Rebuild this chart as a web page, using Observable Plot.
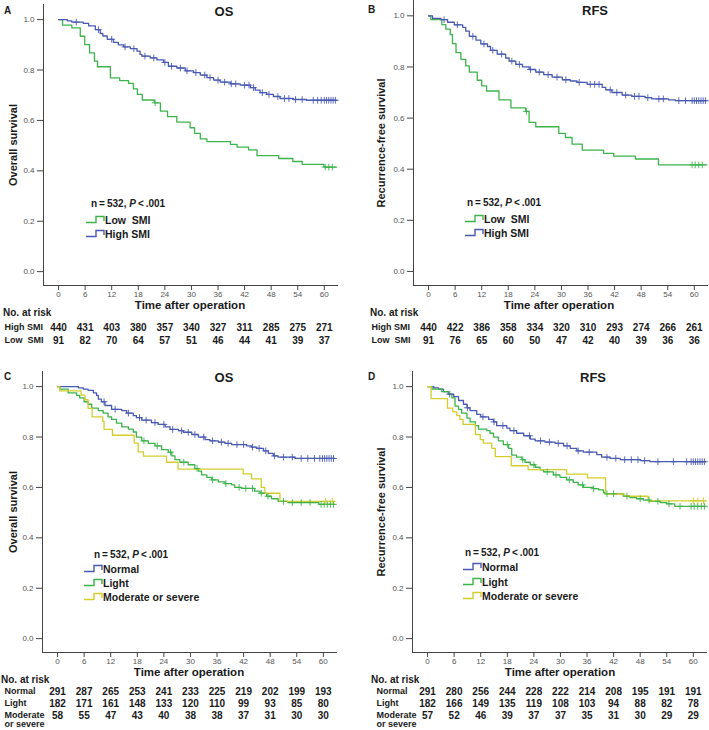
<!DOCTYPE html>
<html><head><meta charset="utf-8">
<script src="https://cdn.jsdelivr.net/npm/d3@7"></script>
<script src="https://cdn.jsdelivr.net/npm/@observablehq/plot@0.6"></script>
<style>
body{margin:0;background:#fff;}
#root{position:relative;width:709px;height:730px;overflow:hidden;font-family:"Liberation Sans",Arial,sans-serif;color:#1a1a1a;}
.abs{position:absolute;white-space:pre;line-height:1;}
.pl{position:absolute;}
</style></head><body><div id="root"></div>
<script>
// ---------- shared ticks ----------
const monthTicks = [0, 6, 12, 18, 24, 30, 36, 42, 48, 54, 60];
const survTicks = [0, 0.2, 0.4, 0.6, 0.8, 1.0];
const xDomain = [-3.4, 63.2];
const yDomain = [-0.055, 1.06];

// ---------- colours ----------
const blue = "#4a5ab2", green = "#3db44b", yellow = "#d3cd2b";

// ---------- Panel A: OS by SMI ----------
const A_high_t = [0, 2, 3, 5.6, 6.8, 8.3, 9.4, 10, 11, 12.4, 13.5, 14.7, 16.2, 17.7, 18.4, 18.8, 20.7, 22.2, 23.7, 24.8, 26.7, 28.6, 30.5, 32, 33.5, 35, 36.5, 38.8, 41, 43.3, 44.4, 45.5, 47, 48.5, 50, 53, 56, 62.8];
const A_high_s = [1, 0.995, 0.99, 0.985, 0.975, 0.96, 0.945, 0.935, 0.922, 0.91, 0.9, 0.892, 0.885, 0.875, 0.862, 0.855, 0.848, 0.84, 0.83, 0.815, 0.808, 0.797, 0.79, 0.78, 0.77, 0.76, 0.752, 0.745, 0.74, 0.73, 0.72, 0.71, 0.703, 0.695, 0.687, 0.683, 0.68, 0.68];
const A_high_c = [4, 9, 12, 15, 17, 19.5, 21.5, 24, 25.5, 27.5, 29, 31, 33, 34.2, 36, 37.5, 39, 40, 42, 43, 44, 46, 47.5, 49.5, 51, 52, 53.5, 55, 57.5, 58.5, 59.3, 60, 60.5, 61, 61.5, 62, 62.5];
const A_low_t = [0, 0.9, 3, 4.9, 5.9, 7, 8.1, 8.8, 11.7, 13.8, 15.8, 16.9, 17.8, 18.9, 21.6, 23, 24.6, 26.7, 29.7, 30.7, 32, 33.5, 38.8, 40.3, 42.9, 44.8, 49.7, 52.9, 55, 59.9, 62.8];
const A_low_s = [1, 0.978, 0.967, 0.934, 0.901, 0.868, 0.835, 0.813, 0.769, 0.758, 0.747, 0.725, 0.703, 0.681, 0.670, 0.637, 0.615, 0.593, 0.571, 0.549, 0.527, 0.516, 0.505, 0.494, 0.483, 0.460, 0.449, 0.437, 0.426, 0.415, 0.415];
const A_low_c = [21.8, 60.2, 61, 61.8];
const A_risk_high = [440, 431, 403, 380, 357, 340, 327, 311, 285, 275, 271];
const A_risk_low = [91, 82, 70, 64, 57, 51, 46, 44, 41, 39, 37];

// ---------- Panel B: RFS by SMI ----------
const B_high_t = [0, 0.9, 2.8, 4.3, 5.8, 7.7, 8.4, 9.2, 10.7, 11.8, 13.3, 14, 15.5, 17.4, 18.2, 19.7, 21.2, 22.7, 24.2, 26, 27.9, 30.2, 32, 33.5, 35.8, 39.2, 40, 41.4, 43.7, 45.9, 48.9, 50.4, 54.2, 55.7, 62.8];
const B_high_s = [1, 0.99, 0.985, 0.975, 0.965, 0.955, 0.94, 0.92, 0.905, 0.89, 0.88, 0.865, 0.85, 0.835, 0.823, 0.81, 0.8, 0.79, 0.78, 0.77, 0.76, 0.75, 0.745, 0.74, 0.732, 0.72, 0.71, 0.7, 0.69, 0.685, 0.68, 0.675, 0.671, 0.668, 0.668];
const B_high_c = [3.5, 6.5, 10, 12.5, 14.5, 16.5, 18.8, 20.5, 23, 25, 27, 29, 31, 34, 36.5, 37.5, 38.5, 41, 42.5, 44.5, 46.5, 47.5, 49.5, 52, 53, 56.5, 58, 59.5, 60, 60.5, 61, 61.5, 62, 62.5];
const B_low_t = [0, 0.5, 3, 3.9, 4.9, 5.4, 6.2, 7.3, 8.4, 9.2, 11, 12, 13.1, 15.9, 18.6, 21.9, 22.7, 24.2, 29.4, 30.9, 32.4, 34.7, 39.5, 41.8, 46.7, 51.9, 62.8];
const B_low_s = [1, 0.985, 0.966, 0.948, 0.927, 0.891, 0.856, 0.83, 0.804, 0.78, 0.748, 0.726, 0.706, 0.671, 0.64, 0.626, 0.583, 0.566, 0.54, 0.524, 0.498, 0.475, 0.462, 0.451, 0.44, 0.417, 0.417];
const B_low_c = [22.1, 59.5, 60.2, 61, 61.8];
const B_risk_high = [440, 422, 386, 358, 334, 320, 310, 293, 274, 266, 261];
const B_risk_low = [91, 76, 65, 60, 50, 47, 42, 40, 39, 36, 36];

// ---------- Panel C: OS by sarcopenia grade ----------
const C_norm_t = [0, 4.7, 5.8, 6.9, 8.1, 8.8, 9.2, 9.9, 10.7, 12.2, 14.5, 15.6, 17.1, 17.8, 19, 21.2, 22.7, 24.3, 25.4, 27.3, 28.4, 30.3, 31.8, 33.3, 34.4, 36.3, 37.8, 39.3, 42.7, 43.8, 45, 46.5, 47.6, 48.7, 49.8, 53.6, 62.6];
const C_norm_s = [1, 0.995, 0.99, 0.985, 0.975, 0.965, 0.95, 0.94, 0.925, 0.91, 0.905, 0.895, 0.885, 0.877, 0.867, 0.857, 0.85, 0.84, 0.83, 0.825, 0.819, 0.81, 0.8, 0.79, 0.785, 0.78, 0.775, 0.77, 0.765, 0.76, 0.755, 0.745, 0.735, 0.725, 0.72, 0.715, 0.715];
const C_norm_c = [10.5, 13, 16, 18.5, 20, 22, 24, 26, 28, 29.5, 31, 33, 35, 37, 38.5, 40.5, 42, 44, 45.5, 47, 49, 51, 53, 55, 56.5, 58, 59.2, 59.8, 60.3, 60.8, 61.3, 61.8, 62.3];
const C_light_t = [0, 0.5, 2.4, 4.3, 5, 6, 6.9, 7.7, 9.2, 10.3, 11.4, 12.2, 13.3, 14.5, 16, 17.1, 17.8, 19, 20.5, 22, 23.5, 25, 25.8, 26.5, 27.6, 29.5, 31, 31.8, 32.5, 33.7, 34.8, 36.3, 37.8, 39.3, 40, 41.5, 44.5, 45.7, 47.2, 48.3, 49.8, 52, 59, 62.6];
const C_light_s = [1, 0.99, 0.975, 0.965, 0.955, 0.94, 0.93, 0.915, 0.905, 0.895, 0.88, 0.87, 0.855, 0.84, 0.831, 0.82, 0.8, 0.785, 0.775, 0.765, 0.75, 0.74, 0.725, 0.71, 0.7, 0.69, 0.675, 0.665, 0.65, 0.64, 0.63, 0.622, 0.615, 0.61, 0.6, 0.596, 0.585, 0.577, 0.565, 0.555, 0.545, 0.54, 0.533, 0.533];
const C_light_c = [19.5, 22.5, 25.5, 28.5, 31.5, 35, 38, 41, 42.5, 44, 46, 47.5, 51, 53, 55, 57, 59.5, 60.2, 60.9, 61.6, 62.3];
const C_mod_t = [0, 0.5, 5.3, 6.2, 6.9, 7.8, 10.2, 10.5, 12.4, 17.3, 18.2, 19.4, 24.6, 27.2, 41.9, 43.8, 46, 46.8, 50.2, 62.6];
const C_mod_s = [1, 0.983, 0.966, 0.948, 0.914, 0.88, 0.862, 0.83, 0.807, 0.776, 0.741, 0.724, 0.70, 0.673, 0.654, 0.634, 0.60, 0.577, 0.545, 0.545];
const C_mod_c = [60.5, 62];
const C_risk_norm = [291, 287, 265, 253, 241, 233, 225, 219, 202, 199, 193];
const C_risk_light = [182, 171, 161, 148, 133, 120, 110, 99, 93, 85, 80];
const C_risk_mod = [58, 55, 47, 43, 40, 38, 38, 37, 31, 30, 30];

// ---------- Panel D: RFS by sarcopenia grade ----------
const D_norm_t = [0, 1.4, 2.5, 3.6, 4.7, 5.9, 7, 8.1, 8.9, 9.6, 11.1, 12, 13.8, 14.9, 15.6, 17.9, 18.6, 20.1, 21.7, 23.2, 24.3, 26.5, 28.8, 30.7, 32.2, 33.7, 35.2, 38.2, 39.3, 41.2, 43.5, 48, 50.2, 62.8];
const D_norm_s = [1, 0.995, 0.99, 0.98, 0.97, 0.96, 0.945, 0.93, 0.916, 0.905, 0.89, 0.88, 0.87, 0.86, 0.845, 0.835, 0.825, 0.815, 0.805, 0.792, 0.785, 0.78, 0.775, 0.765, 0.755, 0.745, 0.74, 0.73, 0.72, 0.715, 0.71, 0.706, 0.702, 0.702];
const D_norm_c = [5, 9, 12.5, 15, 17, 19.5, 23, 25.5, 27.5, 29.5, 31.5, 34, 36.5, 40.5, 42.5, 44.5, 46, 47.5, 49, 52, 55.5, 58.5, 59.5, 60, 60.5, 61, 61.5, 62, 62.5];
const D_light_t = [0, 1, 3.2, 4.7, 5.5, 6.2, 7, 7.7, 8.9, 9.6, 10.8, 11.5, 13.4, 14.1, 14.9, 16, 17.1, 18.3, 19, 20.1, 21.3, 22, 23.2, 24.3, 25.4, 26.2, 28.4, 29.9, 31.4, 32.9, 34, 35.2, 37.4, 38.6, 39.7, 40.1, 44.2, 45.7, 47.2, 48.7, 50.2, 52.5, 54, 55.8, 62.8];
const D_light_s = [1, 0.99, 0.98, 0.97, 0.955, 0.923, 0.91, 0.895, 0.875, 0.86, 0.845, 0.831, 0.825, 0.815, 0.8, 0.785, 0.77, 0.755, 0.728, 0.72, 0.71, 0.7, 0.69, 0.68, 0.67, 0.662, 0.65, 0.64, 0.63, 0.62, 0.61, 0.6, 0.595, 0.59, 0.58, 0.575, 0.565, 0.56, 0.555, 0.55, 0.545, 0.54, 0.535, 0.525, 0.525];
const D_light_c = [18, 21.5, 24, 27, 29, 32, 35, 37.5, 40.5, 42, 45, 48, 50, 52, 54.5, 57, 59.5, 60.2, 61, 61.8, 62.5];
const D_mod_t = [0, 0.8, 4.5, 5.7, 6.6, 7.3, 8, 10.8, 11.9, 12.6, 14.5, 15.3, 18.9, 22.7, 31.4, 36.1, 40.2, 44.4, 49.8, 62.8];
const D_mod_s = [1, 0.952, 0.915, 0.9, 0.885, 0.87, 0.85, 0.81, 0.79, 0.776, 0.755, 0.722, 0.686, 0.671, 0.653, 0.638, 0.574, 0.565, 0.547, 0.547];
const D_mod_c = [60, 61, 62.3];
const D_risk_norm = [291, 280, 256, 244, 228, 222, 214, 208, 195, 191, 191];
const D_risk_light = [182, 166, 149, 135, 119, 108, 103, 94, 88, 82, 78];
const D_risk_mod = [57, 52, 46, 39, 37, 37, 35, 31, 30, 29, 29];

// ---------- texts ----------
const statText = "n\u2009=\u2009532, <i>P</i>\u2009<\u2009.001";

// ---------- panel layout options built from the arrays ----------
const panels = [
  {letter: "A", title: "OS", ylab: "Overall survival", left: 0, top: 0, mt: 4,
   curves: [
     {name: "Low\u00a0\u00a0SMI", color: green, t: A_low_t, s: A_low_s, c: A_low_c},
     {name: "High SMI", color: blue, t: A_high_t, s: A_high_s, c: A_high_c}],
   risk: [{name: "High SMI", v: A_risk_high}, {name: "Low\u00a0\u00a0SMI", v: A_risk_low}],
   rowDx: -39, titleX: 224, titleY: 11, letterX: 4, letterY: 11, ylabX: 13,
   xlabX: 190, noRiskX: 3, legX: 86, statX: 91, statY: 204, legY: [220, 234]},
  {letter: "B", title: "RFS", ylab: "Recurrence-free survival", left: 370, top: 0, mt: 0,
   curves: [
     {name: "Low\u00a0\u00a0SMI", color: green, t: B_low_t, s: B_low_s, c: B_low_c},
     {name: "High SMI", color: blue, t: B_high_t, s: B_high_s, c: B_high_c}],
   risk: [{name: "High SMI", v: B_risk_high}, {name: "Low\u00a0\u00a0SMI", v: B_risk_low}],
   rowDx: -42, titleX: 595, titleY: 10, letterX: 368, letterY: 10, ylabX: 381,
   xlabX: 559, noRiskX: 370, legX: 465, statX: 467, statY: 203, legY: [219, 233]},
  {letter: "C", title: "OS", ylab: "Overall survival", left: -1, top: 367, mt: 4,
   curves: [
     {name: "Normal", color: blue, t: C_norm_t, s: C_norm_s, c: C_norm_c},
     {name: "Light", color: green, t: C_light_t, s: C_light_s, c: C_light_c},
     {name: "Moderate or severe", color: yellow, t: C_mod_t, s: C_mod_s, c: C_mod_c}],
   risk: [{name: "Normal", v: C_risk_norm}, {name: "Light", v: C_risk_light}, {name: "Moderate\nor severe", v: C_risk_mod}],
   rowDx: -38, titleX: 224, titleY: 377, letterX: 4, letterY: 377, ylabX: 13,
   xlabX: 189, noRiskX: 1, legX: 84, statX: 94, statY: 555, legY: [569, 583, 597]},
  {letter: "D", title: "RFS", ylab: "Recurrence-free survival", left: 369, top: 367, mt: 4,
   curves: [
     {name: "Normal", color: blue, t: D_norm_t, s: D_norm_s, c: D_norm_c},
     {name: "Light", color: green, t: D_light_t, s: D_light_s, c: D_light_c},
     {name: "Moderate or severe", color: yellow, t: D_mod_t, s: D_mod_s, c: D_mod_c}],
   risk: [{name: "Normal", v: D_risk_norm}, {name: "Light", v: D_risk_light}, {name: "Moderate\nor severe", v: D_risk_mod}],
   rowDx: -36, titleX: 593, titleY: 377, letterX: 368, letterY: 377, ylabX: 381,
   xlabX: 560, noRiskX: 371, legX: 463, statX: 465, statY: 553, legY: [567, 582, 596]}
];

const root = document.getElementById("root");
const W = 338, ML = 43, FRAME_BOTTOM = 285;

function stepAt(ts, ss, t) { let v = ss[0]; for (let i = 0; i < ts.length; i++) if (ts[i] <= t) v = ss[i]; return v; }

function addText(html, x, y, css, center) {
  const d = document.createElement("div");
  d.className = "abs";
  d.innerHTML = html;
  d.style.cssText += `left:${x}px;top:${y}px;transform:translate(${center ? "-50%" : "0"},-50%);` + css;
  root.appendChild(d);
  return d;
}

function legendIcon(color, x, y) {
  const ns = "http://www.w3.org/2000/svg";
  const s = document.createElementNS(ns, "svg");
  s.setAttribute("width", 19); s.setAttribute("height", 9);
  s.style.cssText = `position:absolute;left:${x}px;top:${y - 5}px;overflow:visible`;
  const p = document.createElementNS(ns, "path");
  p.setAttribute("d", "M0,7.5H10V1.5H18V6");
  p.setAttribute("fill", "none"); p.setAttribute("stroke", color); p.setAttribute("stroke-width", 1.4);
  s.appendChild(p); root.appendChild(s);
}

const style = {fontFamily: "'Liberation Sans', Arial, sans-serif", fontSize: "8px", background: "transparent", overflow: "visible", color: "#555"};

for (const p of panels) {
  const lines = p.curves.flatMap(c => c.t.map((t, i) => ({t, s: c.s[i], g: c.name})));
  const cens = p.curves.flatMap(c => c.c.map(t => ({t, s: stepAt(c.t, c.s, t), g: c.name})));
  const H = FRAME_BOTTOM + 20;
  const chart = Plot.plot({
    width: W, height: H, marginLeft: ML, marginRight: 0, marginTop: p.mt, marginBottom: H - FRAME_BOTTOM,
    x: {domain: xDomain},
    y: {domain: yDomain},
    color: {domain: p.curves.map(c => c.name), range: p.curves.map(c => c.color)},
    style,
    marks: [
      Plot.ruleX([xDomain[0]], {stroke: "#444", strokeWidth: 1}),
      Plot.ruleY([yDomain[0]], {stroke: "#444", strokeWidth: 1}),
      Plot.axisX(monthTicks, {tickSize: 5, tickPadding: 1, stroke: "#444", fill: "#555", fontSize: 8, label: null}),
      Plot.axisY(survTicks, {tickSize: 6, tickPadding: 3, stroke: "#444", fill: "#555", fontSize: 8, label: null, tickFormat: d => d.toFixed(1)}),
      Plot.line(lines, {x: "t", y: "s", z: "g", stroke: "g", curve: "step-after", strokeWidth: 1.3}),
      Plot.dot(cens, {x: "t", y: "s", stroke: "g", symbol: "plus", r: 2.3, strokeWidth: 0.9})
    ]
  });
  chart.classList.add("pl");
  chart.style.left = p.left + "px"; chart.style.top = p.top + "px";
  root.appendChild(chart);

  // number at risk table
  const nRows = p.risk.length;
  const rows = p.risk.flatMap(r => r.v.map((v, i) => ({t: monthTicks[i], row: r.name, v})));
  const rMT = nRows === 2 ? 9 : 6, rowStep = nRows === 2 ? 13 : 12;
  const rH = rMT + rowStep * (nRows - 1) + 16;
  const risk = Plot.plot({
    width: W, height: rH, marginLeft: ML, marginRight: 0, marginTop: rMT, marginBottom: 16,
    x: {domain: xDomain, axis: null},
    y: {type: "point", domain: p.risk.map(r => r.name), padding: 0, axis: null},
    style: {...style, color: "#1a1a1a"},
    marks: [
      Plot.text(rows, {x: "t", y: "row", text: "v", fontWeight: "bold", fontSize: 10, fill: "#1a1a1a"}),
      Plot.text(p.risk, {y: "name", text: "name", frameAnchor: "left", textAnchor: "start", lineAnchor: "top", dy: -4.5, dx: p.rowDx, fontWeight: "bold", fontSize: 9, fill: "#1a1a1a", lineHeight: 1.05})
    ]
  });
  risk.classList.add("pl");
  risk.style.left = p.left + "px"; risk.style.top = (p.top + 318) + "px";
  root.appendChild(risk);

  // texts
  const ylabY = p.top + (p.mt + FRAME_BOTTOM) / 2;
  addText(p.letter, p.letterX, p.letterY, "font-weight:bold;font-size:10px;", false);
  addText(p.title, p.titleX, p.titleY, "font-weight:bold;font-size:13px;", true);
  addText(p.ylab, p.ylabX, ylabY, "font-weight:bold;font-size:11px;", true).style.transform = "translate(-50%,-50%) rotate(-90deg)";
  addText("Time after operation", p.xlabX, p.top + 306, "font-weight:bold;font-size:11.5px;", true);
  addText("No. at risk", p.noRiskX, p.top + 313, "font-weight:bold;font-size:10px;", false);
  addText(statText, p.statX, p.statY, "font-weight:bold;font-size:10px;", false);
  p.curves.forEach((c, i) => {
    legendIcon(c.color, p.legX, p.legY[i]);
    addText(c.name, p.legX + 19, p.legY[i], "font-weight:bold;font-size:10.5px;", false);
  });
}
</script></body></html>
